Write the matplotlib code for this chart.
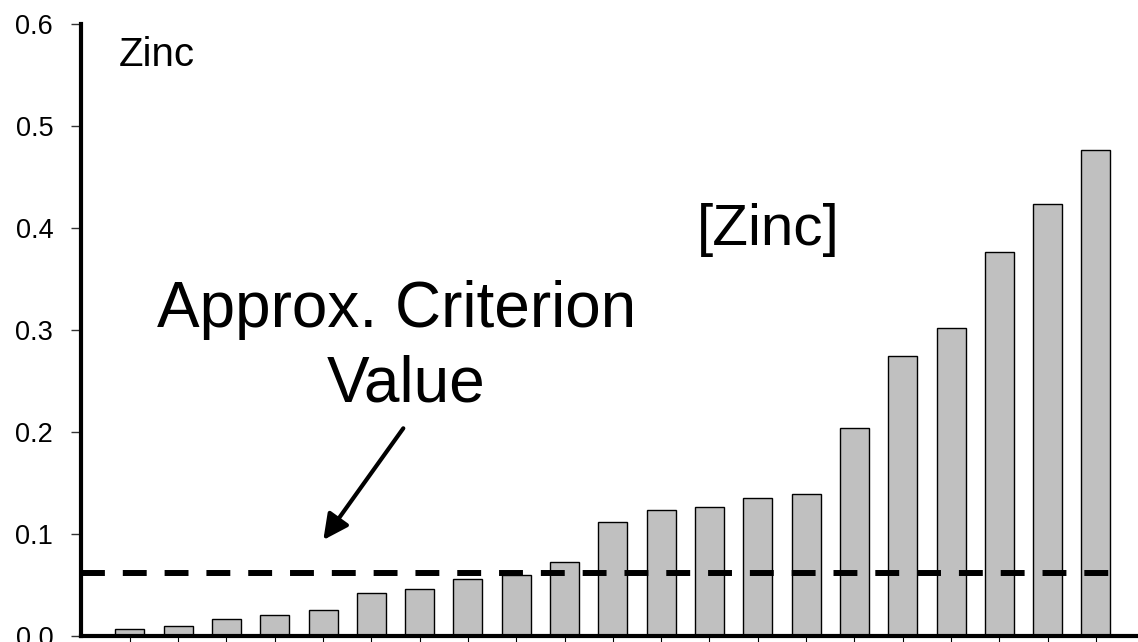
import matplotlib
matplotlib.use("Agg")
import matplotlib.pyplot as plt
import numpy as np

plt.rcParams['font.family'] = ['Liberation Sans', 'DejaVu Sans']

# Data
zinc_values = [0.0061, 0.0090, 0.0162, 0.0201, 0.0250, 0.0414, 0.0459,
               0.0552, 0.0591, 0.0719, 0.1117, 0.1232, 0.1258, 0.1350,
               0.1389, 0.2040, 0.2747, 0.3016, 0.3768, 0.4236, 0.4766]
criterion_value = 0.0614
y_ticks = [0.0, 0.1, 0.2, 0.3, 0.4, 0.5, 0.6]
y_tick_labels = ["0.0", "0.1", "0.2", "0.3", "0.4", "0.5", "0.6"]
axis_title = "Zinc"
series_label = "[Zinc]"
criterion_lines = ["Approx. Criterion", "Value"]

W, H = 1138, 642
fig = plt.figure(figsize=(W / 100, H / 100), dpi=100)
ax_left, ax_right = 81, 1138
ax_top, ax_bottom = 24.3, 635.5
ax = fig.add_axes([ax_left / W, (H - ax_bottom) / H,
                   (ax_right - ax_left) / W, (ax_bottom - ax_top) / H])

x = np.arange(len(zinc_values))
ax.bar(x, zinc_values, width=0.6, color='#C0C0C0', edgecolor='black',
       linewidth=1.0, zorder=2)

ax.set_xlim(-1.01, 20.87)
ax.set_ylim(0, 0.6)

# criterion dashed line
ax.axhline(criterion_value, xmin=0, xmax=(1115 - ax_left) / (ax_right - ax_left),
           color='black', linewidth=4.3, linestyle=(0, (4, 3)), zorder=3)

for s in ['top', 'right']:
    ax.spines[s].set_visible(False)
for s in ['left', 'bottom']:
    ax.spines[s].set_linewidth(3.0)
    ax.spines[s].set_zorder(4)

ax.set_yticks(y_ticks)
ax.set_yticklabels(y_tick_labels, fontsize=19.5)
ax.tick_params(axis='y', direction='out', length=7, width=1.0, color='#333333',
               pad=13)
ax.set_xticks(x)
ax.set_xticklabels([])
ax.tick_params(axis='x', direction='out', length=5, width=0.8, color='black')

# texts
fig.text(119 / W, 1 - 66 / H, axis_title, fontsize=29, ha='left', va='baseline')
fig.text(697 / W, 1 - 245 / H, series_label, fontsize=42, ha='left', va='baseline')
fig.text(397 / W, 1 - 326.7 / H, criterion_lines[0], fontsize=46, ha='center',
         va='baseline')
fig.text(406 / W, 1 - 401.7 / H, criterion_lines[1], fontsize=46, ha='center',
         va='baseline')

ax.annotate('', xy=(323.3, H - 540), xycoords='figure pixels',
            xytext=(403.3, H - 428.3), textcoords='figure pixels',
            arrowprops=dict(arrowstyle='-|>', lw=3, color='black',
                            mutation_scale=38, shrinkA=0, shrinkB=0))

fig.savefig('out.png', dpi=100)
